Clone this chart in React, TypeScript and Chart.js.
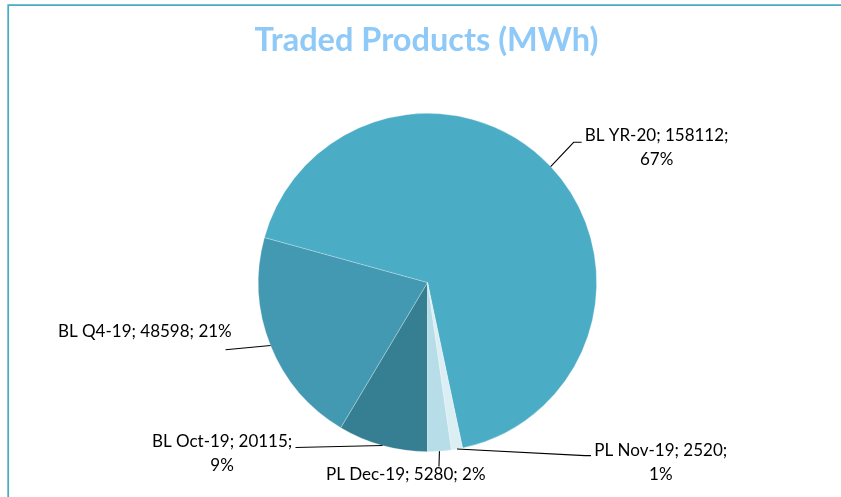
import React, { useEffect, useRef } from "react";
import { Chart, registerables } from "chart.js";

Chart.register(...registerables);

// ---- data ----
const categories = ["BL Oct-19", "BL Q4-19", "BL YR-20", "PL Nov-19", "PL Dec-19"];
const values = [20115, 48598, 158112, 2520, 5280];
const sliceColors = ["#367F93", "#4399B1", "#4BACC6", "#DBEEF3", "#B7DEE8"];
const titleText = "Traded Products (MWh)";

// ---- label layout (offsets relative to slice outer-edge midpoint) ----
const labelLayout = [
  { text: [-160.4, 1.4], leader: [[-87, 2]], wrap: true },
  { text: [-125.7, -8.4], leader: [[-45, 4.3]], wrap: false },
  { text: [106, -25.3], leader: [[23, -24.3], [31, -24.3]], wrap: true },
  { text: [203.8, 7.3], leader: [[128, 6.6], [134, 6.6]], wrap: true },
  { text: [-33.7, 28.4], leader: [[-0.5, 15.4]], wrap: false },
];

const LABEL_FONT = "17px Lato, 'Open Sans', sans-serif";
const TITLE_FONT = "bold 32.5px Lato, 'Open Sans', sans-serif";
const LINE_H = 23.7;

const decorPlugin = {
  id: "decor",
  beforeDraw(chart: any) {
    const ctx = chart.ctx;
    ctx.save();
    ctx.fillStyle = "#ffffff";
    ctx.fillRect(0, 0, chart.width, chart.height);
    ctx.strokeStyle = "#4AABC4";
    ctx.lineWidth = 1.75;
    ctx.beginPath();
    ctx.moveTo(chart.width, 5.2);
    ctx.lineTo(8.2, 5.2);
    ctx.lineTo(8.2, chart.height);
    ctx.stroke();
    ctx.fillStyle = "#8EC9F7";
    ctx.font = TITLE_FONT;
    ctx.textAlign = "center";
    ctx.textBaseline = "alphabetic";
    ctx.fillText(titleText, 426.5, 50.5);
    ctx.restore();
  },
  afterDatasetsDraw(chart: any) {
    const ctx = chart.ctx;
    const meta = chart.getDatasetMeta(0);
    const data = chart.data.datasets[0].data as number[];
    const total = data.reduce((a, b) => a + b, 0);
    ctx.save();
    meta.data.forEach((arc: any, i: number) => {
      const p = arc.getProps(["x", "y", "startAngle", "endAngle", "outerRadius"], true);
      const mid = (p.startAngle + p.endAngle) / 2;
      const ex = p.x + Math.cos(mid) * p.outerRadius;
      const ey = p.y + Math.sin(mid) * p.outerRadius;
      const lay = labelLayout[i];
      // leader
      ctx.strokeStyle = "#000000";
      ctx.lineWidth = 1.1;
      ctx.beginPath();
      ctx.moveTo(ex, ey);
      lay.leader.forEach((pt) => ctx.lineTo(ex + pt[0], ey + pt[1]));
      ctx.stroke();
      // text
      const pct = Math.round((data[i] / total) * 100) + "%";
      const lines = lay.wrap
        ? [`${categories[i]}; ${data[i]};`, pct]
        : [`${categories[i]}; ${data[i]}; ${pct}`];
      ctx.fillStyle = "#000000";
      ctx.font = LABEL_FONT;
      ctx.textAlign = "center";
      ctx.textBaseline = "alphabetic";
      lines.forEach((ln, k) => {
        ctx.fillText(ln, ex + lay.text[0], ey + lay.text[1] + k * LINE_H);
      });
    });
    ctx.restore();
  },
};

export default function App() {
  const ref = useRef<HTMLCanvasElement | null>(null);
  useEffect(() => {
    if (!ref.current) return;
    const chart = new Chart(ref.current, {
      type: "pie",
      data: {
        labels: categories,
        datasets: [
          {
            data: values,
            backgroundColor: sliceColors,
            borderColor: "rgba(255,255,255,0.35)",
            borderWidth: 0.75,
          },
        ],
      },
      options: {
        responsive: false,
        animation: false,
        rotation: 180,
        layout: { padding: { left: 258, right: 244, top: 113, bottom: 45 } },
        plugins: {
          legend: { display: false },
          title: { display: false },
          tooltip: { enabled: false },
        },
      },
      plugins: [decorPlugin],
    });
    return () => chart.destroy();
  }, []);
  return (
    <div style={{ position: "fixed", left: 0, top: 0, width: 841, height: 497, background: "#fff" }}>
      <canvas ref={ref} width={841} height={497} style={{ display: "block" }} />
    </div>
  );
}
